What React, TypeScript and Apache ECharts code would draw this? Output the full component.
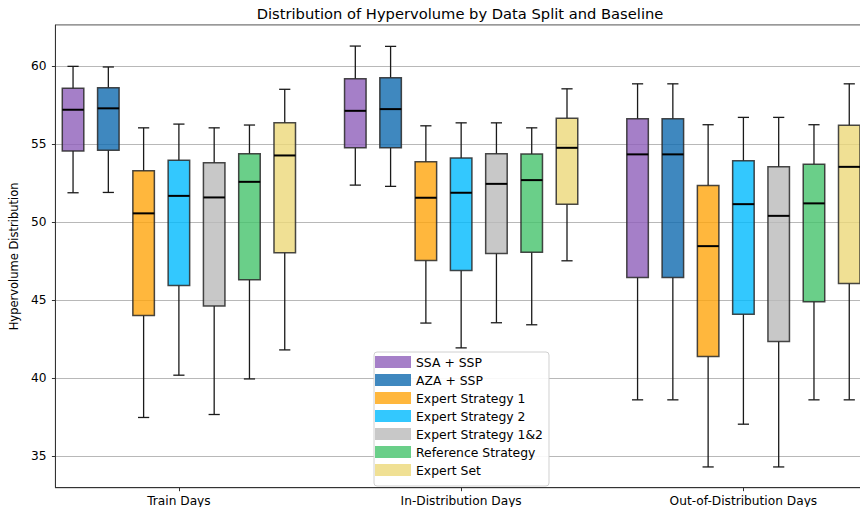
import React, { useEffect, useRef } from "react";
import * as echarts from "echarts";

const splits = ["Train Days", "In-Distribution Days", "Out-of-Distribution Days"];
const baselines = [
  "SSA + SSP",
  "AZA + SSP",
  "Expert Strategy 1",
  "Expert Strategy 2",
  "Expert Strategy 1&2",
  "Reference Strategy",
  "Expert Set",
];
// each entry: [min, Q1, median, Q3, max] per split
const ssaSsp = [[51.9, 54.57, 57.22, 58.59, 60.0], [52.39, 54.78, 57.15, 59.21, 61.3], [38.63, 46.47, 54.36, 56.64, 58.88]];
const azaSsp = [[51.92, 54.62, 57.31, 58.63, 59.96], [52.31, 54.78, 57.26, 59.27, 61.28], [38.63, 46.47, 54.36, 56.64, 58.88]];
const expert1 = [[37.5, 44.04, 50.58, 53.31, 56.06], [43.55, 47.56, 51.58, 53.88, 56.19], [34.33, 41.41, 48.48, 52.37, 56.26]];
const expert2 = [[40.21, 45.96, 51.7, 53.99, 56.3], [41.96, 46.92, 51.9, 54.13, 56.38], [37.07, 44.12, 51.17, 53.95, 56.73]];
const expert12 = [[37.69, 44.65, 51.6, 53.82, 56.06], [43.57, 48.01, 52.47, 54.4, 56.38], [34.33, 42.37, 50.42, 53.56, 56.73]];
const reference = [[39.97, 46.32, 52.6, 54.4, 56.24], [43.44, 48.08, 52.71, 54.38, 56.06], [38.63, 44.91, 51.22, 53.72, 56.26]];
const expertSet = [[41.83, 48.06, 54.29, 56.38, 58.53], [47.54, 51.17, 54.78, 56.67, 58.56], [38.63, 46.09, 53.56, 56.22, 58.88]];

const allStats = [ssaSsp, azaSsp, expert1, expert2, expert12, reference, expertSet];
const colors = [
  "rgba(143,95,186,0.8)",
  "rgba(15,106,175,0.8)",
  "rgba(255,165,12,0.8)",
  "rgba(0,186,254,0.8)",
  "rgba(186,186,186,0.8)",
  "rgba(69,195,108,0.8)",
  "rgba(236,216,121,0.8)",
];

const SLOTS_PER_SPLIT = baselines.length + 1;
const slotCount = splits.length * SLOTS_PER_SPLIT - 1;
const slotNames = Array.from({ length: slotCount }, (_, i) => "s" + i);
const labelSlot = (i: number) => i % SLOTS_PER_SPLIT === 3;

const FONT = "DejaVu Sans";

export default function App() {
  const ref = useRef<HTMLDivElement>(null);
  useEffect(() => {
    if (!ref.current) return;
    const chart = echarts.init(ref.current, undefined, { renderer: "svg" });

    const series = baselines.map((name, s) => ({
      type: "custom",
      name,
      coordinateSystem: "cartesian2d",
      itemStyle: { color: colors[s] },
      encode: { x: 0, y: [1, 2, 3, 4, 5] },
      data: allStats[s].map((st, c) => [c * SLOTS_PER_SPLIT + s, ...st]),
      renderItem: (params: any, api: any) => {
        const x = api.value(0);
        const v = [1, 2, 3, 4, 5].map((i) => api.value(i));
        const pts = v.map((val) => api.coord([x, val]));
        const cx = pts[0][0];
        const yMin = pts[0][1];
        const yQ1 = pts[1][1];
        const yMed = pts[2][1];
        const yQ3 = pts[3][1];
        const yMax = pts[4][1];
        const slot = api.size([1, 0])[0];
        const bw = slot * 0.61;
        const cw = bw * 0.52;
        const wStyle = { stroke: "#1a1a1a", lineWidth: 1.3 };
        return {
          type: "group",
          children: [
            { type: "line", shape: { x1: cx, y1: yQ3, x2: cx, y2: yMax }, style: wStyle },
            { type: "line", shape: { x1: cx, y1: yQ1, x2: cx, y2: yMin }, style: wStyle },
            { type: "line", shape: { x1: cx - cw / 2, y1: yMax, x2: cx + cw / 2, y2: yMax }, style: wStyle },
            { type: "line", shape: { x1: cx - cw / 2, y1: yMin, x2: cx + cw / 2, y2: yMin }, style: wStyle },
            {
              type: "rect",
              shape: { x: cx - bw / 2, y: yQ3, width: bw, height: yQ1 - yQ3 },
              style: { fill: colors[params.seriesIndex], stroke: "rgba(40,40,40,0.85)", lineWidth: 1.5 },
            },
            { type: "line", shape: { x1: cx - bw / 2, y1: yMed, x2: cx + bw / 2, y2: yMed }, style: { stroke: "#000", lineWidth: 2 } },
          ],
        };
      },
    }));

    chart.setOption({
      animation: false,
      backgroundColor: "#fff",
      textStyle: { fontFamily: FONT },
      graphic: [
        {
          type: "text",
          x: 460,
          y: 13,
          style: {
            text: "Distribution of Hypervolume by Data Split and Baseline",
            textAlign: "center",
            textVerticalAlign: "middle",
            fontFamily: FONT,
            fontSize: 14.7,
            fill: "#000",
          },
        },
      ],
      grid: {
        left: 52.7,
        top: 25,
        width: 814.2,
        height: 462.7,
        show: true,
        borderColor: "#333",
        borderWidth: 1,
        containLabel: false,
      },
      legend: {
        orient: "vertical",
        left: 374,
        top: 352,
        padding: [4, 6, 10, 1],
        itemWidth: 36,
        itemHeight: 12,
        itemGap: 6,
        icon: "rect",
        backgroundColor: "rgba(255,255,255,0.9)",
        borderColor: "#d0d0d0",
        borderWidth: 1,
        borderRadius: 3,
        textStyle: { fontFamily: FONT, fontSize: 12.4, color: "#000", padding: [0, 0, 0, 0] },
        data: baselines.map((name, s) => ({ name, itemStyle: { color: colors[s], borderWidth: 0 } })),
      },
      xAxis: {
        type: "category",
        data: slotNames,
        boundaryGap: true,
        axisLine: { show: true, lineStyle: { color: "#333", width: 1 } },
        axisTick: {
          show: true,
          alignWithLabel: true,
          interval: (i: number) => labelSlot(i),
          length: 3.5,
          lineStyle: { color: "#333" },
        },
        axisLabel: {
          interval: (i: number) => labelSlot(i),
          formatter: (_v: string, i: number) => (labelSlot(i) ? splits[Math.floor(i / SLOTS_PER_SPLIT)] : ""),
          fontFamily: FONT,
          fontSize: 12.2,
          color: "#000",
          margin: 7,
        },
        splitLine: { show: false },
      },
      yAxis: {
        type: "value",
        min: 33,
        max: 62.65,
        splitNumber: 5,
        name: "Hypervolume Distribution",
        nameLocation: "middle",
        nameRotate: 90,
        nameGap: 26,
        nameTextStyle: { fontFamily: FONT, fontSize: 11.5, color: "#000" },
        axisLine: { show: true, lineStyle: { color: "#333", width: 1 } },
        axisTick: { show: true, length: 3.5, lineStyle: { color: "#333" } },
        axisLabel: {
          showMinLabel: false,
          showMaxLabel: false,
          fontFamily: FONT,
          fontSize: 12.2,
          color: "#000",
          margin: 9,
        },
        splitLine: { show: true, lineStyle: { color: "#b8b8b8", width: 1 } },
      },
      series,
    });
    return () => chart.dispose();
  }, []);

  return (
    <div style={{ position: "absolute", left: 0, top: 0, width: 860, height: 507, overflow: "hidden", background: "#fff" }}>
      <div ref={ref} style={{ width: 880, height: 507 }} />
    </div>
  );
}
